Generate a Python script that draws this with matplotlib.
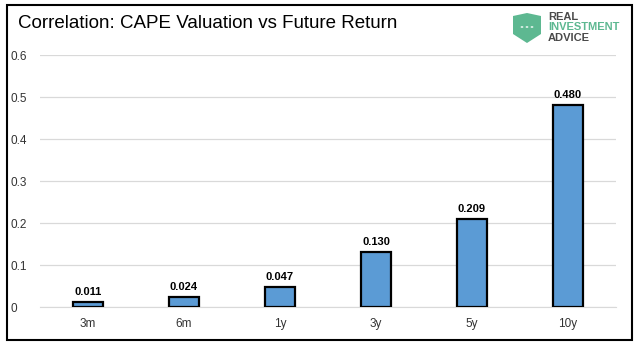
import matplotlib.pyplot as plt
from matplotlib.patches import Rectangle, Polygon, Circle

# data
horizons = ['3m', '6m', '1y', '3y', '5y', '10y']
correlation = [0.011, 0.024, 0.047, 0.130, 0.209, 0.480]
yticks = [0, 0.1, 0.2, 0.3, 0.4, 0.5, 0.6]
ytick_labels = ['0', '0.1', '0.2', '0.3', '0.4', '0.5', '0.6']

W, H = 638, 347
fig = plt.figure(figsize=(W / 100, H / 100), dpi=100)
plt.rcParams['font.family'] = 'Liberation Sans'

ax = fig.add_axes([40 / W, 1 - 307 / H, 576 / W, 252 / H])
x = range(len(horizons))
bars = ax.bar(x, correlation, width=0.32, color='#5B9BD5', edgecolor='black',
              linewidth=1.6, zorder=3)
for xi, v in zip(x, correlation):
    ax.text(xi, v + 0.012, f'{v:.3f}', ha='center', va='bottom',
            fontsize=8, fontweight='bold', color='black')

ax.set_xlim(-0.5, len(horizons) - 0.5)
ax.set_ylim(0, 0.6)
ax.set_yticks(yticks)
ax.set_yticklabels(ytick_labels)
ax.set_xticks(list(x))
ax.set_xticklabels(horizons)
ax.grid(axis='y', color='#d9d9d9', linewidth=0.9, zorder=0)
for s in ax.spines.values():
    s.set_visible(False)
ax.spines['bottom'].set_visible(True)
ax.spines['bottom'].set_color('#d9d9d9')
ax.tick_params(length=0, labelsize=8.5, colors='#333333')
ax.tick_params(axis='y', pad=21.5)
ax.tick_params(axis='x', pad=8)
for lbl in ax.get_yticklabels():
    lbl.set_horizontalalignment('left')

# title
fig.text(18 / W, 1 - 24 / H, 'Correlation: CAPE Valuation vs Future Return',
         fontsize=13.5, ha='left', va='center', color='black')

# outer border
fig.patches.append(Rectangle((7 / W, 1 - 340 / H), 625 / W, 335 / H,
                             transform=fig.transFigure, fill=False,
                             edgecolor='black', linewidth=1.5))

# logo: shield + text
green = '#5DB891'
sx0, sx1 = 513, 541
shield = [(sx0, 16), (527, 13), (sx1, 16), (sx1, 34), (527, 43), (sx0, 34)]
fig.patches.append(Polygon([(px / W, 1 - py / H) for px, py in shield],
                           closed=True, transform=fig.transFigure,
                           facecolor=green, edgecolor='none'))
for dx in (-5, 0, 5):
    fig.patches.append(Circle(((527 + dx) / W, 1 - 27 / H), 1.4 / W,
                              transform=fig.transFigure, facecolor='white',
                              edgecolor='none'))
fig.text(548 / W, 1 - 17 / H, 'REAL', fontsize=8, fontweight='bold',
         color='#4a4a4a', ha='left', va='center')
fig.text(548 / W, 1 - 27.5 / H, 'INVESTMENT', fontsize=8, fontweight='bold',
         color=green, ha='left', va='center')
fig.text(548 / W, 1 - 38 / H, 'ADVICE', fontsize=8, fontweight='bold',
         color='#4a4a4a', ha='left', va='center')

fig.savefig('out.png', dpi=100)
